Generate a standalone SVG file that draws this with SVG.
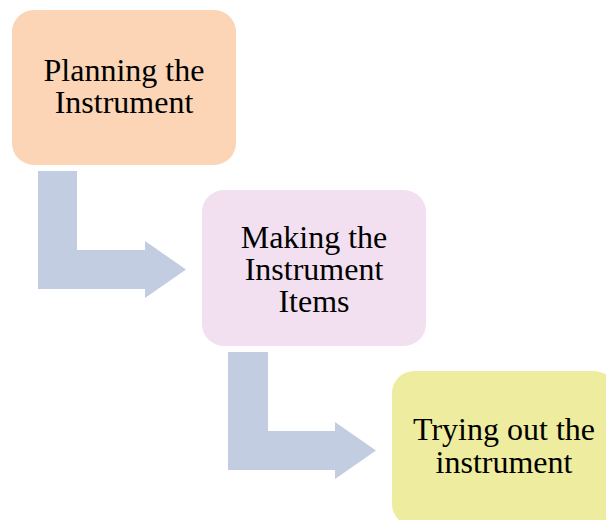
<svg xmlns="http://www.w3.org/2000/svg" width="606" height="520" viewBox="0 0 606 520">
<style>
.lbl{font-family:"Liberation Serif","Times New Roman",serif;font-size:32px;fill:#000;text-anchor:middle}
.arr{fill:#C3CDE1}
</style>
<rect width="606" height="520" fill="#fff"/>
<g id="connectors">
<path class="arr" d="M38,171 H77 V250 H145 V241 L186,269.5 L145,298 V289 H38 Z"/>
<path class="arr" d="M228,352 H268 V431 H335 V422 L376,450.5 L335,479 V470 H228 Z"/>
</g>
<g id="node1">
<rect x="12" y="10" width="224" height="155" rx="22" fill="#FBD5B5"/>
<text class="lbl" x="124" y="81">Planning the</text>
<text class="lbl" x="124" y="113">Instrument</text>
</g>
<g id="node2">
<rect x="202" y="190" width="224" height="156" rx="22" fill="#F2E0F0"/>
<text class="lbl" x="314" y="248">Making the</text>
<text class="lbl" x="314" y="280">Instrument</text>
<text class="lbl" x="314" y="312">Items</text>
</g>
<g id="node3">
<rect x="392" y="371" width="224" height="155" rx="22" fill="#EEEC9E"/>
<text class="lbl" x="504" y="440">Trying out the</text>
<text class="lbl" x="504" y="473">instrument</text>
</g>
</svg>
